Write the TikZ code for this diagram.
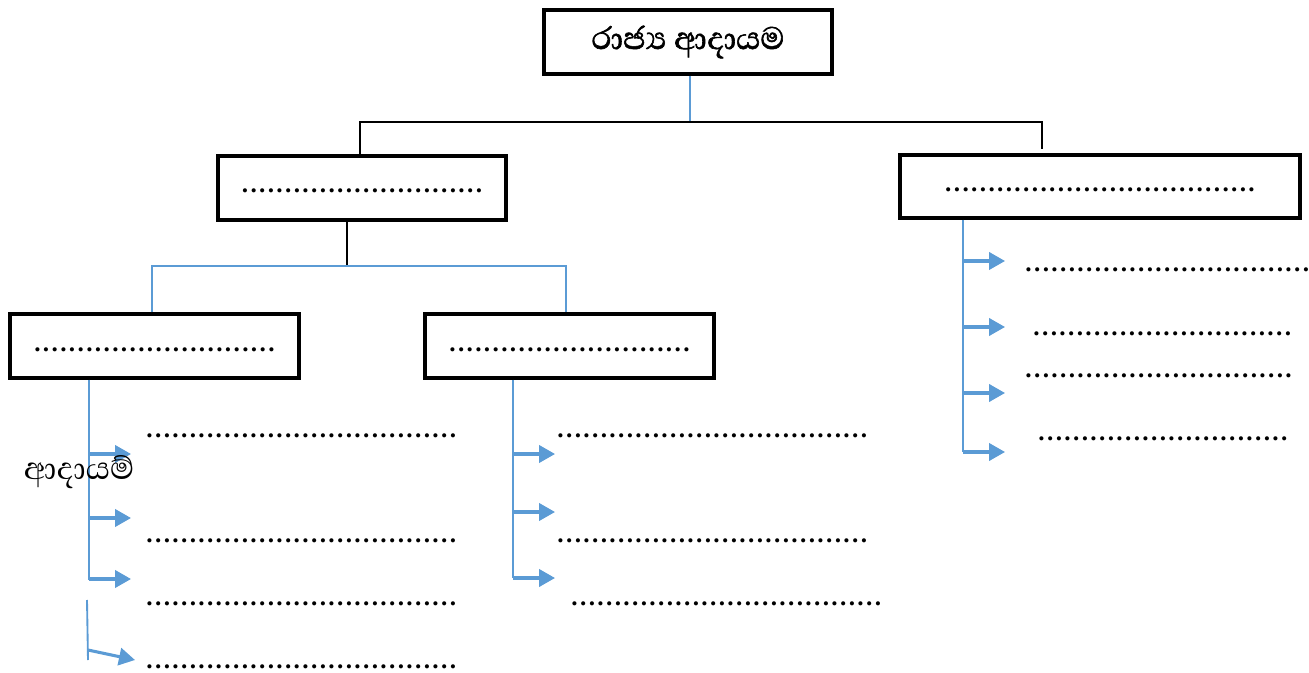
\documentclass[tikz,border=0pt]{standalone}
\usepackage{fontspec}
\usepackage{tikz}
\usetikzlibrary{positioning}
\usetikzlibrary{arrows.meta}
\setmainfont{Liberation Serif}
\newfontfamily\sinhala[Script=Sinhala]{Abhaya Libre}
\definecolor{linkblue}{RGB}{91,155,213}
\tikzset{box/.style={rectangle, draw=black, line width=2.6pt, minimum width=216pt, minimum height=48pt, inner sep=0pt}}
\tikzset{dotbox/.style={box, text height=7.5pt, text depth=0pt, font=\fontsize{19}{22}\selectfont\bfseries}}
\tikzset{dotrow/.style={anchor=west, inner sep=0pt, font=\fontsize{19}{22}\selectfont\bfseries}}
\tikzset{sinhalatext/.style={font=\sinhala\fontsize{30}{34}\selectfont}}
\tikzset{bline/.style={draw=black, line width=1pt}}
\tikzset{cline/.style={draw=linkblue, line width=1.4pt}}
\tikzset{carrow/.style={draw=linkblue, line width=2.3pt, -{Triangle[length=12pt,width=13pt]}}}
\newcommand{\dotsof}[1]{\foreach\k in {1,...,#1}{\makebox[6.5pt]{.}}}

\begin{document}
\begin{tikzpicture}[x=0.75pt,y=-0.75pt]
    \useasboundingbox (0,0) rectangle (1309,673);
    \node [box, sinhalatext](top) at (688,42){\addfontfeature{FakeBold=1.5}රාජ්^^^^200dය ආදායම};
    \node [dotbox](l1) at (362,188){\dotsof{28}};
    \node [dotbox, minimum width=300pt, minimum height=47pt](r1) at (1100,186.5){\dotsof{36}};
    \node [dotbox, minimum width=216.75pt](l2) at (154.5,346){\dotsof{28}};
    \node [dotbox, minimum width=216.75pt](m2) at (569.5,346){\dotsof{28}};

    % tree connectors
    \coordinate (j1) at (690,122);
    \coordinate (j2) at (347,266);
    \coordinate (j3) at (1042,149);
    \draw[cline] (top.south -| j1) -- (j1);
    \draw[bline] (l1.north -| 360,0) |- (j3 |- j1) -- (j3);
    \draw[bline] (l1.south -| j2) -- (j2);
    \draw[cline] (l2.north -| 152,0) |- (j2) -| (m2.north -| 566,0);

    % left branch
    \coordinate (lb) at (89,580);
    \draw[cline] (l2.south -| lb) -- (lb);
    \foreach \y [count=\i] in {454,518,579}{
        \coordinate (la\i) at (89,\y);
        \coordinate (lt\i) at (131,\y);
        \draw[carrow] (la\i) -- (lt\i);
    }
    \coordinate (lc) at (87,600);
    \coordinate (ld) at (88,660);
    \coordinate (le) at (88,650);
    \coordinate (lf) at (135,660);
    \draw[cline] (lc) -- (ld);
    \draw[carrow] (le) -- (lf);
    \node [dotrow](ldot1) at (145,436){\dotsof{36}};
    \node [dotrow](ldot2) at (145,541){\dotsof{36}};
    \node [dotrow](ldot3) at (145,604){\dotsof{36}};
    \node [dotrow](ldot4) at (145,667){\dotsof{36}};
    \node [sinhalatext](lname) at (79,472){ආදායම්};

    % middle branch
    \coordinate (mb) at (513,578);
    \draw[cline] (m2.south -| mb) -- (mb);
    \foreach \y [count=\i] in {454,512,578}{
        \coordinate (ma\i) at (513,\y);
        \coordinate (mt\i) at (555,\y);
        \draw[carrow] (ma\i) -- (mt\i);
    }
    \node [dotrow](mdot1) at (556,436){\dotsof{36}};
    \node [dotrow](mdot2) at (556,541){\dotsof{36}};
    \node [dotrow](mdot3) at (570,604){\dotsof{36}};

    % right branch
    \coordinate (rb) at (963,452);
    \draw[cline] (r1.south -| rb) -- (rb);
    \foreach \y [count=\i] in {261,327,393,452}{
        \coordinate (ra\i) at (963,\y);
        \coordinate (rt\i) at (1005,\y);
        \draw[carrow] (ra\i) -- (rt\i);
    }
    \node [dotrow](rdot1) at (1024,270){\dotsof{33}};
    \node [dotrow](rdot2) at (1032,334){\dotsof{30}};
    \node [dotrow](rdot3) at (1024,376){\dotsof{31}};
    \node [dotrow](rdot4) at (1037,439){\dotsof{29}};
\end{tikzpicture}
\end{document}
